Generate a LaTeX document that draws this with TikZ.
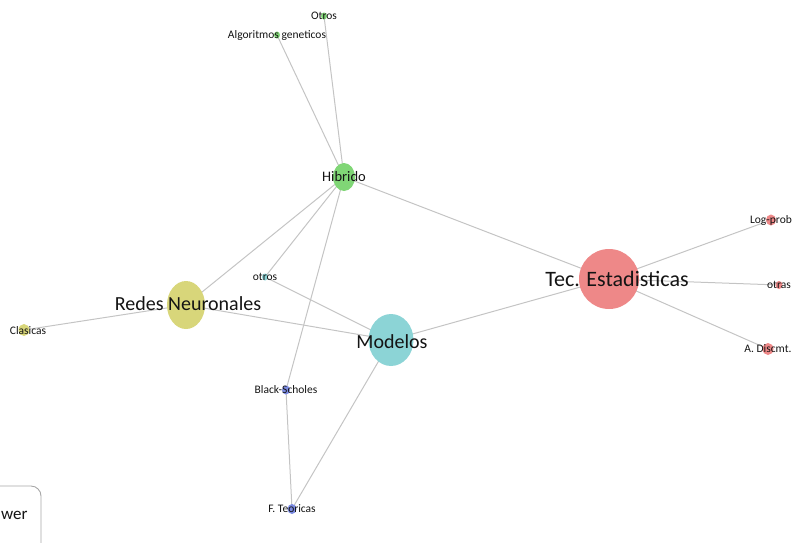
\documentclass[tikz,border=0pt]{standalone}
\usepackage{fontspec}
\setmainfont{Carlito}
\usetikzlibrary{shapes.geometric}
\usetikzlibrary{backgrounds}
\definecolor{linkgray}{RGB}{196,196,196}
\definecolor{hibgreen}{RGB}{128,214,118}
\definecolor{redyellow}{RGB}{216,214,122}
\definecolor{modteal}{RGB}{140,212,214}
\definecolor{tecred}{RGB}{238,136,136}
\definecolor{bsblue}{RGB}{122,138,226}
\definecolor{txtblack}{RGB}{20,20,20}
\tikzset{dot/.style = {ellipse, inner sep = 0pt, fill = #1},
         link/.style = {draw = linkgray, line width = 1pt},
         smalltxt/.style = {text = txtblack, font = \fontsize{11.5}{13}\selectfont},
         midtxt/.style = {text = txtblack, font = \fontsize{14.5}{17}\selectfont},
         bigtxt/.style = {text = txtblack, font = \fontsize{20}{24}\selectfont}}

\begin{document}
\begin{tikzpicture}[x = 1pt, y = -1pt]
  \useasboundingbox (0, 0) rectangle (795, 542);

  \node [dot = hibgreen, minimum width = 6pt, minimum height = 7pt,
         label = {[smalltxt] center:Otros}] (otros1) at (324, 16) {};
  \node [dot = hibgreen, minimum width = 6pt, minimum height = 7pt,
         label = {[smalltxt] center:Algoritmos geneticos}] (alggen) at (277, 35) {};
  \node [dot = hibgreen, minimum width = 22pt, minimum height = 28pt,
         label = {[midtxt] center:Hibrido}] (hibrido) at (344, 177) {};

  \node [dot = redyellow, minimum width = 38pt, minimum height = 48pt] (redes) at (186, 305) {};
  \node [bigtxt] (redeslbl) at (188, 304) {Redes Neuronales};
  \node [dot = redyellow, minimum width = 11pt, minimum height = 12pt] (clasicas) at (24, 330) {};
  \node [smalltxt] (clasicaslbl) at (28, 331) {Clasicas};

  \node [dot = modteal, minimum width = 6pt, minimum height = 7pt,
         label = {[smalltxt] center:otros}] (otros2) at (265, 277) {};
  \node [dot = modteal, minimum width = 45pt, minimum height = 52pt] (modelos) at (391, 340) {};
  \node [bigtxt] (modeloslbl) at (392, 342) {Modelos};

  \node [dot = bsblue, minimum width = 8pt, minimum height = 9pt,
         label = {[smalltxt] center:Black-Scholes}] (bscholes) at (286, 390) {};
  \node [dot = bsblue, minimum width = 9pt, minimum height = 10pt,
         label = {[smalltxt] center:F. Teoricas}] (fteo) at (292, 509) {};

  \node [dot = tecred, minimum width = 60pt, minimum height = 60pt] (tec) at (609, 279) {};
  \node [text = txtblack, font = \fontsize{22}{26}\selectfont] (teclbl) at (617, 279) {Tec. Estadisticas};
  \node [dot = tecred, minimum width = 10pt, minimum height = 11pt,
         label = {[smalltxt] center:Log-prob}] (logprob) at (771, 220) {};
  \node [dot = tecred, minimum width = 7pt, minimum height = 8pt,
         label = {[smalltxt] center:otras}] (otras) at (779, 285) {};
  \node [dot = tecred, minimum width = 11pt, minimum height = 12pt,
         label = {[smalltxt] center:A. Discmt.}] (adiscmt) at (768, 349) {};

  \begin{pgfonlayer}{background}
    \draw [link] (otros1.center) -- (hibrido.center);
    \draw [link] (alggen.center) -- (hibrido.center);
    \draw [link] (hibrido.center) -- (redes.center);
    \draw [link] (hibrido.center) -- (otros2.center);
    \draw [link] (hibrido.center) -- (bscholes.center);
    \draw [link] (hibrido.center) -- (tec.center);
    \draw [link] (redes.center) -- (clasicas.center);
    \draw [link] (redes.center) -- (modelos.center);
    \draw [link] (otros2.center) -- (modelos.center);
    \draw [link] (modelos.center) -- (tec.center);
    \draw [link] (modelos.center) -- (fteo.center);
    \draw [link] (bscholes.center) -- (fteo.center);
    \draw [link] (tec.center) -- (logprob.center);
    \draw [link] (tec.center) -- (otras.center);
    \draw [link] (tec.center) -- (adiscmt.center);
  \end{pgfonlayer}

  \begin{scope}
    \clip (0, 0) rectangle (795, 542);
    \draw [draw = gray!70, line width = 0.9pt, rounded corners = 10pt] (-60, 486) rectangle (41, 580);
    \node [text = txtblack, font = \fontsize{17}{20}\selectfont, anchor = west, inner sep = 0pt] (viewer) at (1, 515) {wer};
  \end{scope}
\end{tikzpicture}
\end{document}
